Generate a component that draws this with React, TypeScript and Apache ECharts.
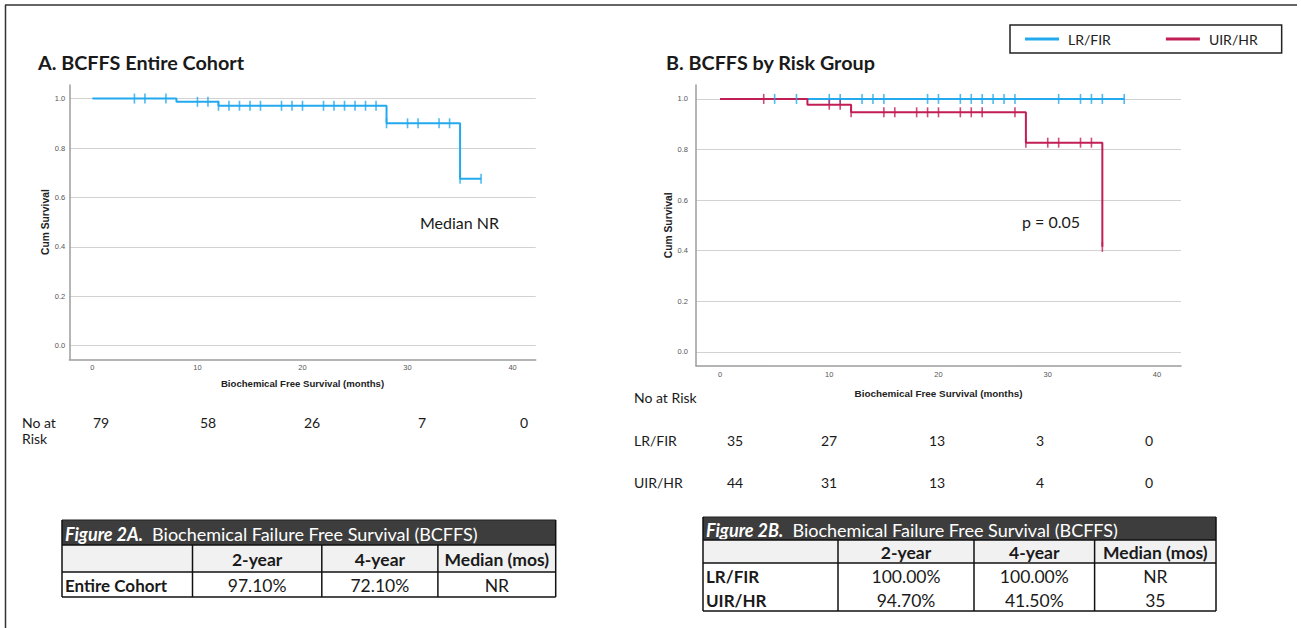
import { useEffect, useRef } from "react";
import * as echarts from "echarts";

// ---------- data ----------
const xTicks = [0, 10, 20, 30, 40];
const yTicks = [0, 0.2, 0.4, 0.6, 0.8, 1.0];

// A. Entire cohort (Kaplan-Meier steps)
const cohortTimes = [0, 8, 12, 28, 35, 37];
const cohortSurvival = [1.0, 0.987, 0.971, 0.9, 0.676, 0.676];
const cohortCensorTimes = [4, 5, 7, 10, 11, 12, 13, 14, 15, 16, 18, 19, 20, 22, 23, 24, 25, 26, 27, 28, 30, 31, 33, 34, 35, 37];

// B. By risk group
const lowRiskTimes = [0, 37];
const lowRiskSurvival = [1.0, 1.0];
const lowRiskCensorTimes = [5, 7, 10, 11, 13, 14, 15, 19, 20, 22, 23, 24, 25, 26, 27, 31, 33, 34, 35, 37];

const highRiskTimes = [0, 8, 12, 28, 35];
const highRiskSurvival = [1.0, 0.977, 0.947, 0.827, 0.415];
const highRiskCensorTimes = [4, 10, 11, 12, 15, 16, 18, 19, 20, 22, 23, 24, 27, 28, 30, 31, 33, 34, 35];

// Numbers at risk
const cohortAtRisk = [79, 58, 26, 7, 0];
const lowRiskAtRisk = [35, 27, 13, 3, 0];
const highRiskAtRisk = [44, 31, 13, 4, 0];

// Tables
const tableColumns = ["", "2-year", "4-year", "Median (mos)"];
const tableARows = [["Entire Cohort", "97.10%", "72.10%", "NR"]];
const tableBRows = [
  ["LR/FIR", "100.00%", "100.00%", "NR"],
  ["UIR/HR", "94.70%", "41.50%", "35"],
];

const groupNames = ["LR/FIR", "UIR/HR"];

// ---------- styles / layout ----------
const BLUE = "#22A9EE";
const RED = "#C21E56";
const CAL = "Lato, 'Open Sans', sans-serif";
const ARIAL = "'Liberation Sans', Arial, sans-serif";

const atRiskXA = [101, 208, 312, 422, 524];
const atRiskXB = [735, 829, 937, 1040, 1149];

function survivalAt(times: number[], surv: number[], t: number) {
  let v = surv[0];
  for (let i = 0; i < times.length; i++) if (times[i] <= t) v = surv[i];
  return v;
}
function zip(a: number[], b: number[]) {
  return a.map((v, i) => [v, b[i]]);
}

function text(x: number, y: number, t: string, o: any = {}) {
  return {
    type: "text",
    x,
    y,
    silent: true,
    style: {
      text: t,
      fill: o.fill || "#1a1a1a",
      fontSize: o.fontSize || 14,
      fontFamily: o.fontFamily || CAL,
      fontWeight: o.fontWeight || "normal",
      fontStyle: o.fontStyle || "normal",
      align: o.align || "left",
      verticalAlign: "middle",
      textAlign: o.align || "left",
      textVerticalAlign: "middle",
      rich: o.rich,
    },
  };
}
function hline(x1: number, x2: number, y: number, w = 1.5, c = "#111") {
  return { type: "line", silent: true, shape: { x1, y1: y, x2, y2: y }, style: { stroke: c, lineWidth: w } };
}
function vline(x: number, y1: number, y2: number, w = 1.5, c = "#111") {
  return { type: "line", silent: true, shape: { x1: x, y1, x2: x, y2 }, style: { stroke: c, lineWidth: w } };
}
function rect(x: number, y: number, w: number, h: number, fill: string) {
  return { type: "rect", silent: true, shape: { x, y, width: w, height: h }, style: { fill } };
}

function buildTable(label: string, cols: number[], rows: number[], bodyLines: number[], data: string[][]) {
  const els: any[] = [];
  const x0 = cols[0];
  const x1 = cols[cols.length - 1];
  const [yH, yC, yB, yEnd] = rows;
  els.push(rect(x0, yH, x1 - x0, yC - yH, "#3d3d3d"));
  els.push(rect(x0, yC, x1 - x0, yB - yC, "#f1f1f1"));
  els.push(rect(x0, yB, x1 - x0, yEnd - yB, "#ffffff"));
  els.push(
    text(x0 + 3, (yH + yC) / 2 + 1, `{b|${label}}  Biochemical Failure Free Survival (BCFFS)`, {
      fill: "#ffffff",
      fontSize: 18,
      rich: { b: { fontStyle: "italic", fontWeight: "bold", fontSize: 18, fontFamily: CAL, fill: "#ffffff", color: "#ffffff" } },
    })
  );
  // column headers
  for (let c = 1; c < tableColumns.length; c++) {
    els.push(text((cols[c] + cols[c + 1]) / 2, (yC + yB) / 2 + 1, tableColumns[c], { fontSize: 17.5, fontWeight: "bold", align: "center" }));
  }
  data.forEach((r, i) => {
    const y = bodyLines[i];
    els.push(text(x0 + 3, y, r[0], { fontSize: 17, fontWeight: "bold" }));
    for (let c = 1; c < r.length; c++) {
      els.push(text((cols[c] + cols[c + 1]) / 2, y, r[c], { fontSize: 17.5, align: "center" }));
    }
  });
  // borders
  els.push(hline(x0, x1, yH, 1.2, "#222"));
  els.push(hline(x0, x1, yC, 1.5));
  els.push(hline(x0, x1, yB, 1.5));
  els.push(hline(x0, x1, yEnd, 1.5));
  els.push(vline(x0, yH, yEnd, 1.5));
  els.push(vline(x1, yH, yEnd, 1.5));
  for (let c = 1; c < cols.length - 1; c++) els.push(vline(cols[c], yC, yEnd, 1.5));
  return els;
}

function valueAxes(gridIndex: number, nameGapX: number, nameGapY: number, yLabelMargin: number, xLabelMargin: number, xNameSize: number) {
  const x = {
    gridIndex,
    type: "value",
    min: -2.2,
    max: 42.2,
    axisLine: { show: true, onZero: false, lineStyle: { color: "#9c9c9c", width: 1.5 } },
    axisTick: { show: false, customValues: xTicks },
    axisLabel: { customValues: xTicks, fontSize: 7.5, color: "#555", fontFamily: ARIAL, margin: xLabelMargin },
    splitLine: { show: false },
    name: "Biochemical Free Survival (months)",
    nameLocation: "middle",
    nameGap: nameGapX,
    nameTextStyle: { fontSize: xNameSize, fontWeight: "bold", fontFamily: ARIAL, color: "#222" },
  };
  const y = {
    gridIndex,
    type: "value",
    min: -0.055,
    max: 1.055,
    axisLine: { show: true, onZero: false, lineStyle: { color: "#9c9c9c", width: 1.5 } },
    axisTick: { show: false, customValues: yTicks },
    axisLabel: {
      customValues: yTicks,
      formatter: (v: number) => v.toFixed(1),
      fontSize: 7.5,
      color: "#555",
      fontFamily: ARIAL,
      margin: yLabelMargin,
    },
    splitLine: { show: true, lineStyle: { color: "#d2d2d2", width: 1.2 } },
    name: "Cum Survival",
    nameLocation: "middle",
    nameGap: nameGapY,
    nameTextStyle: { fontSize: 10.3, fontWeight: "bold", fontFamily: ARIAL, color: "#222" },
  };
  return { x, y };
}

function kmLine(name: string, times: number[], surv: number[], color: string, axis: number) {
  return {
    name,
    type: "line",
    step: "end",
    xAxisIndex: axis,
    yAxisIndex: axis,
    showSymbol: false,
    symbol: "none",
    silent: true,
    lineStyle: { color, width: 2 },
    itemStyle: { color },
    data: zip(times, surv),
    z: 3,
  };
}
function censorMarks(name: string, times: number[], surv: number[], censor: number[], color: string, axis: number) {
  return {
    name,
    type: "scatter",
    xAxisIndex: axis,
    yAxisIndex: axis,
    symbol: "rect",
    symbolSize: [1.6, 10],
    silent: true,
    itemStyle: { color },
    data: censor.map((t) => [t, survivalAt(times, surv, t)]),
    z: 4,
  };
}

export default function App() {
  const ref = useRef<HTMLDivElement>(null);
  useEffect(() => {
    document.body.style.margin = "0";
    const chart = echarts.init(ref.current!, null, { renderer: "svg" });
    const a = valueAxes(0, 19, 17, 4, 4, 9.6);
    const b = valueAxes(1, 23, 20, 8, 5, 9.9);

    const graphics: any[] = [];
    // frame
    graphics.push(hline(5, 1297, 5, 1.5, "#333"));
    graphics.push(vline(5.5, 5, 628, 1.5, "#333"));
    // titles
    graphics.push(text(38, 62, "A. BCFFS Entire Cohort", { fontSize: 19.8, fontWeight: "bold" }));
    graphics.push(text(666, 62, "B. BCFFS by Risk Group", { fontSize: 19.8, fontWeight: "bold" }));
    // annotations
    graphics.push(text(420, 222, "Median NR", { fontSize: 16 }));
    graphics.push(text(1022, 221, "p = 0.05", { fontSize: 16 }));
    // numbers at risk A
    graphics.push(text(22, 422, "No at", { fontSize: 14 }));
    graphics.push(text(22, 438, "Risk", { fontSize: 14 }));
    cohortAtRisk.forEach((n, i) => graphics.push(text(atRiskXA[i], 422, String(n), { fontSize: 14, align: "center" })));
    // numbers at risk B
    graphics.push(text(634, 397, "No at Risk", { fontSize: 14 }));
    graphics.push(text(634, 440, groupNames[0], { fontSize: 14 }));
    graphics.push(text(634, 482, groupNames[1], { fontSize: 14 }));
    lowRiskAtRisk.forEach((n, i) => graphics.push(text(atRiskXB[i], 440, String(n), { fontSize: 14, align: "center" })));
    highRiskAtRisk.forEach((n, i) => graphics.push(text(atRiskXB[i], 482, String(n), { fontSize: 14, align: "center" })));
    // tables
    graphics.push(...buildTable("Figure 2A.", [62, 192.5, 321.8, 437.9, 555.7], [520, 545, 572, 597], [585], tableARows));
    graphics.push(...buildTable("Figure 2B.", [703, 838, 974, 1094.6, 1216], [517, 540, 563, 611], [576, 600], tableBRows));

    chart.setOption({
      animation: false,
      backgroundColor: "#ffffff",
      grid: [
        { left: 69.3, top: 85, width: 466.4, height: 274.3, containLabel: false },
        { left: 696, top: 85, width: 485, height: 280.7, containLabel: false },
      ],
      xAxis: [a.x, b.x],
      yAxis: [a.y, b.y],
      legend: {
        data: [
          { name: groupNames[0], icon: "rect" },
          { name: groupNames[1], icon: "rect" },
        ],
        left: 1010,
        top: 25,
        orient: "horizontal",
        padding: [7, 24, 7, 15],
        itemWidth: 34,
        itemHeight: 3,
        itemGap: 55,
        borderColor: "#222",
        borderWidth: 1.5,
        selectedMode: false,
        textStyle: { fontSize: 14, fontFamily: CAL, color: "#222", padding: [0, 0, 0, 4] },
      },
      graphic: { elements: graphics },
      series: [
        kmLine("Entire Cohort", cohortTimes, cohortSurvival, BLUE, 0),
        censorMarks("Entire Cohort", cohortTimes, cohortSurvival, cohortCensorTimes, BLUE, 0),
        kmLine(groupNames[0], lowRiskTimes, lowRiskSurvival, BLUE, 1),
        kmLine(groupNames[1], highRiskTimes, highRiskSurvival, RED, 1),
        censorMarks(groupNames[0], lowRiskTimes, lowRiskSurvival, lowRiskCensorTimes, BLUE, 1),
        censorMarks(groupNames[1], highRiskTimes, highRiskSurvival, highRiskCensorTimes, RED, 1),
      ],
    });
    return () => chart.dispose();
  }, []);
  return <div ref={ref} style={{ width: 1301, height: 628 }} />;
}
